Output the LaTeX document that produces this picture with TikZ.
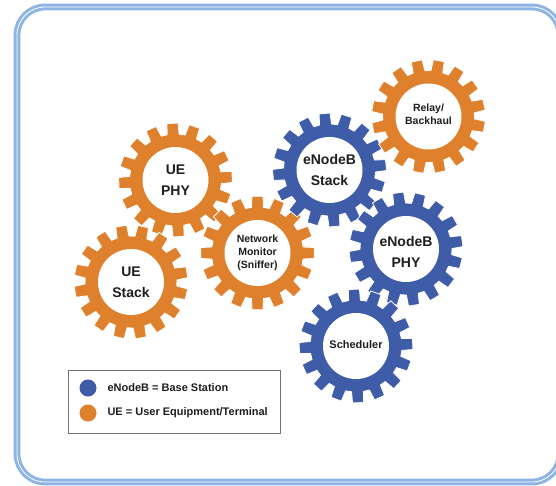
\documentclass[tikz,border=0pt]{standalone}
\usepackage{fontspec}
\setmainfont{Liberation Sans}
\definecolor{gearorange}{RGB}{223,128,45}
\definecolor{gearblue}{RGB}{63,92,168}
\definecolor{frameblue}{RGB}{141,180,228}
\definecolor{inktext}{RGB}{30,30,30}
\tikzset{
  geartext/.style={align=center,text=inktext,font=\bfseries\fontsize{14}{21}\selectfont},
  smalltext/.style={align=center,text=inktext,font=\bfseries\fontsize{10.5}{12.8}\selectfont},
  legendtext/.style={anchor=west,text=inktext,font=\bfseries\fontsize{11}{13}\selectfont},
}
% one gear: centre x, centre y, colour, turn
\newcommand{\gearwheel}[4]{%
  \fill [#3,draw=white,line width=0.8pt,shift={(#1,#2)},rotate=#4]
    (-7.5:46) \foreach \a in {0,22.5,...,337.5} {
      -- (\a-7.5:46) -- (\a-5.5:57) -- (\a+5.5:57) -- (\a+7.5:46)
    } -- cycle;
  \fill [white,shift={(#1,#2)}] (0,0) circle (33);
}
\begin{document}
\begin{tikzpicture}[x=1pt,y=-1pt]
  \useasboundingbox (0,0) rectangle (556,486);
  \fill [white] (0,0) rectangle (556,486);
  \draw [draw=frameblue,line width=3pt,double=white,double distance=0.8pt,rounded corners=28pt]
    (17,7) rectangle (560,482);

  \gearwheel{175.5}{180}{gearorange}{3}
  \gearwheel{131}{282}{gearorange}{10}
  \gearwheel{257.5}{253}{gearorange}{0}
  \gearwheel{329.5}{170}{gearblue}{5}
  \gearwheel{428.5}{116.5}{gearorange}{12}
  \gearwheel{406}{249}{gearblue}{8}
  \gearwheel{356}{346}{gearblue}{2}

  \node [geartext] (uephy) at (175.5,180) {UE\\PHY};
  \node [geartext] (uestack) at (131,282) {UE\\Stack};
  \node [smalltext] (monitor) at (257.5,253) {Network\\Monitor\\(Sniffer)};
  \node [geartext] (enbstack) at (329.5,170) {eNodeB\\Stack};
  \node [smalltext] (relay) at (428.5,114) {Relay/\\Backhaul};
  \node [geartext] (enbphy) at (406,252) {eNodeB\\PHY};
  \node [smalltext,font=\bfseries\fontsize{11}{13}\selectfont] (sched) at (356,345) {Scheduler};

  % legend
  \draw [black!55,line width=0.8pt] (68,370) rectangle (280,433);
  \fill [gearblue] (88,388) circle (8.5);
  \fill [gearorange] (88,413) circle (8.5);
  \node [legendtext] (keyblue) at (104,388) {eNodeB = Base Station};
  \node [legendtext] (keyorange) at (104,413) {UE = User Equipment/Terminal};
\end{tikzpicture}
\end{document}
